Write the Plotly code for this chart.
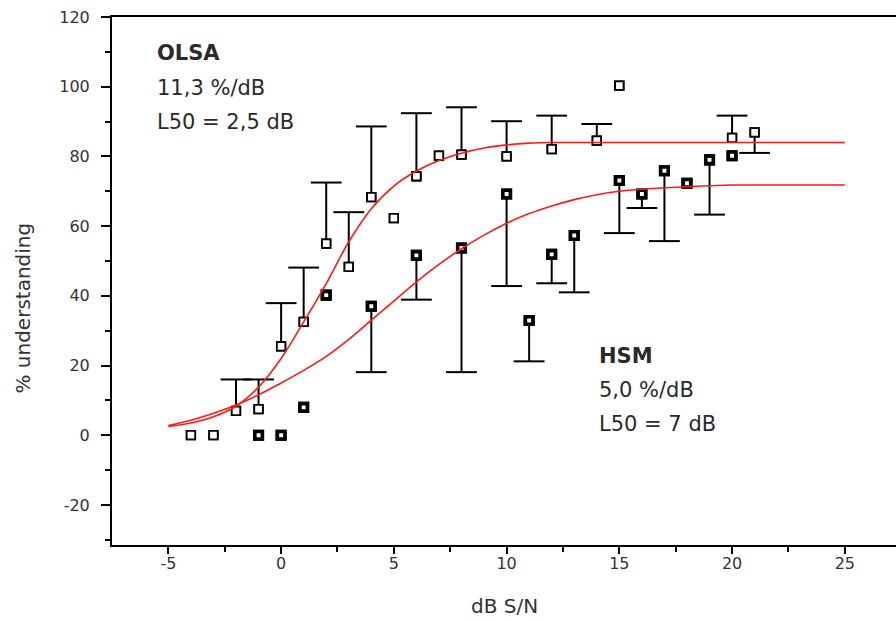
import plotly.graph_objects as go

# ---------------- data ----------------
# OLSA (open squares) measured points
olsa_x = [-4, -3, -2, -1, 0, 1, 2, 3, 4, 5, 6, 7, 8, 10, 12, 14, 15, 20, 21]
olsa_y = [0, 0, 7, 7.5, 25.5, 32.5, 55, 48.3, 68.3, 62.3, 74.3, 80.2, 80.5, 80, 82.1, 84.5, 100.3, 85.3, 86.9]
olsa_err_up = [0, 0, 9, 8.5, 12.4, 15.6, 17.5, 15.7, 20.3, 0, 18.1, 0, 13.6, 10.1, 9.6, 4.8, 0, 6.4, 0]
olsa_err_down = [0, 0, 0, 0, 0, 0, 0, 0, 0, 0, 0, 0, 0, 0, 0, 0, 0, 0, 5.9]

# HSM (filled squares) measured points
hsm_x = [-1, 0, 1, 2, 4, 6, 8, 10, 11, 12, 13, 15, 16, 17, 18, 19, 20]
hsm_y = [0, 0, 8, 40.2, 37, 51.6, 53.7, 69.2, 32.9, 51.9, 57.3, 73.1, 69.2, 75.9, 72.3, 79, 80.2]
hsm_err_up = [0, 0, 0, 0, 0, 0, 0, 0, 0, 0, 0, 0, 0, 0, 0, 0, 0]
hsm_err_down = [0, 0, 0, 0, 18.9, 12.7, 35.6, 26.4, 11.7, 8.3, 16.3, 15.1, 4.0, 20.2, 0, 15.7, 0]

# fitted curves
fit_x = [-5, -4, -3, -2, -1, 0, 1, 2, 3, 4, 5, 6, 7, 8, 9, 10, 11, 12, 13, 14, 15,
         16, 17, 18, 19, 20, 21, 22, 23, 24, 25]
olsa_fit = [2.5, 3.5, 5.3, 8.3, 13.8, 22, 32.5, 43.5, 55.5, 65, 71.5, 75.8, 78.8, 80.9, 82.4, 83.3, 83.8, 84, 84, 84, 84,
            84, 84, 84, 84, 84, 84, 84, 84, 84, 84]
hsm_fit = [2.8, 4.3, 6.3, 8.7, 11.6, 15, 18.6, 22.6, 27.5, 33, 38.5, 44, 49, 53.5, 57.4, 60.8, 63.6, 65.8, 67.6, 69, 70,
           70.6, 71, 71.3, 71.6, 71.8, 71.8, 71.8, 71.8, 71.8, 71.8]

x_tickvals = [-5, 0, 5, 10, 15, 20, 25]
x_ticktext = ["-5", "0", "5", "10", "15", "20", "25"]
y_tickvals = [-20, 0, 20, 40, 60, 80, 100, 120]
y_ticktext = ["-20", "0", "20", "40", "60", "80", "100", "120"]

FONT = "DejaVu Sans"
TXT = "#333333"

fig = go.Figure()


def add_series(xs, ys, up, down, fill, lw, size):
    # vertical bars (no caps)
    fig.add_trace(go.Scatter(
        x=xs, y=ys, mode="markers",
        marker=dict(symbol="square", size=size, color=fill, line=dict(color="black", width=lw)),
        error_y=dict(type="data", symmetric=False, array=up, arrayminus=down,
                     color="black", thickness=2, width=0),
        showlegend=False, hoverinfo="skip"))
    # caps at the bar ends
    cx, cy = [], []
    for xv, yv, u, d in zip(xs, ys, up, down):
        if u > 0:
            cx.append(xv); cy.append(yv + u)
        if d > 0:
            cx.append(xv); cy.append(yv - d)
    fig.add_trace(go.Scatter(
        x=cx, y=cy, mode="markers",
        marker=dict(symbol="line-ew", size=22, line=dict(color="black", width=2)),
        showlegend=False, hoverinfo="skip"))
    # redraw markers on top of the caps/bars
    fig.add_trace(go.Scatter(
        x=xs, y=ys, mode="markers",
        marker=dict(symbol="square", size=size, color=fill, line=dict(color="black", width=lw)),
        showlegend=False, hoverinfo="skip"))


add_series(olsa_x, olsa_y, olsa_err_up, olsa_err_down, "white", 1.8, 8.5)
add_series(hsm_x, hsm_y, hsm_err_up, hsm_err_down, "white", 3.6, 7.5)

for fy in (olsa_fit, hsm_fit):
    fig.add_trace(go.Scatter(x=fit_x, y=fy, mode="lines",
                             line=dict(color="rgb(255,25,25)", width=1.6, shape="spline"),
                             showlegend=False, hoverinfo="skip"))

axis_common = dict(showgrid=False, zeroline=False, showline=True, linecolor="black", linewidth=2,
                   ticks="outside", tickcolor="black", tickwidth=1.5,
                   tickfont=dict(family=FONT, size=16, color=TXT))

fig.update_xaxes(range=[-7.5, 27.27], tickvals=x_tickvals, ticktext=x_ticktext, ticklen=7,
                 mirror=True, ticklabelstandoff=-4,
                 minor=dict(tickvals=[-2.5, 2.5, 7.5, 12.5, 17.5, 22.5], ticks="outside", ticklen=5,
                            tickcolor="black", tickwidth=1.5),
                 **axis_common)
fig.update_yaxes(range=[-31.5, 120], tickvals=y_tickvals, ticktext=y_ticktext, ticklen=9,
                 ticklabelstandoff=8,
                 minor=dict(tickvals=[-30, -10, 10, 30, 50, 70, 90, 110], ticks="outside", ticklen=5,
                            tickcolor="black", tickwidth=1.5),
                 **axis_common)

annos = [
    ("<b>OLSA</b>", 0.0548, 0.932),
    ("11,3 %/dB", 0.0548, 0.866),
    ("L50 = 2,5 dB", 0.0548, 0.801),
    ("<b>HSM</b>", 0.619, 0.358),
    ("5,0 %/dB", 0.619, 0.294),
    ("L50 = 7 dB", 0.619, 0.229),
]
for t, ax, ay in annos:
    fig.add_annotation(text=t, x=ax, y=ay, xref="paper", yref="paper", xanchor="left", yanchor="middle",
                       showarrow=False, font=dict(family=FONT, size=21, color="#2a2a2a"))

fig.add_annotation(text="dB S/N", x=0.501, y=-0.1155, xref="paper", yref="paper",
                   xanchor="center", yanchor="middle", showarrow=False,
                   font=dict(family=FONT, size=20, color=TXT))
fig.add_annotation(text="% understanding", x=-0.114, y=0.449, xref="paper", yref="paper",
                   xanchor="center", yanchor="middle", textangle=-90, showarrow=False,
                   font=dict(family=FONT, size=20, color=TXT))

fig.update_layout(width=896, height=621, margin=dict(l=112, r=0, t=17, b=76),
                  plot_bgcolor="white", paper_bgcolor="white")

fig.write_html("out.html")
